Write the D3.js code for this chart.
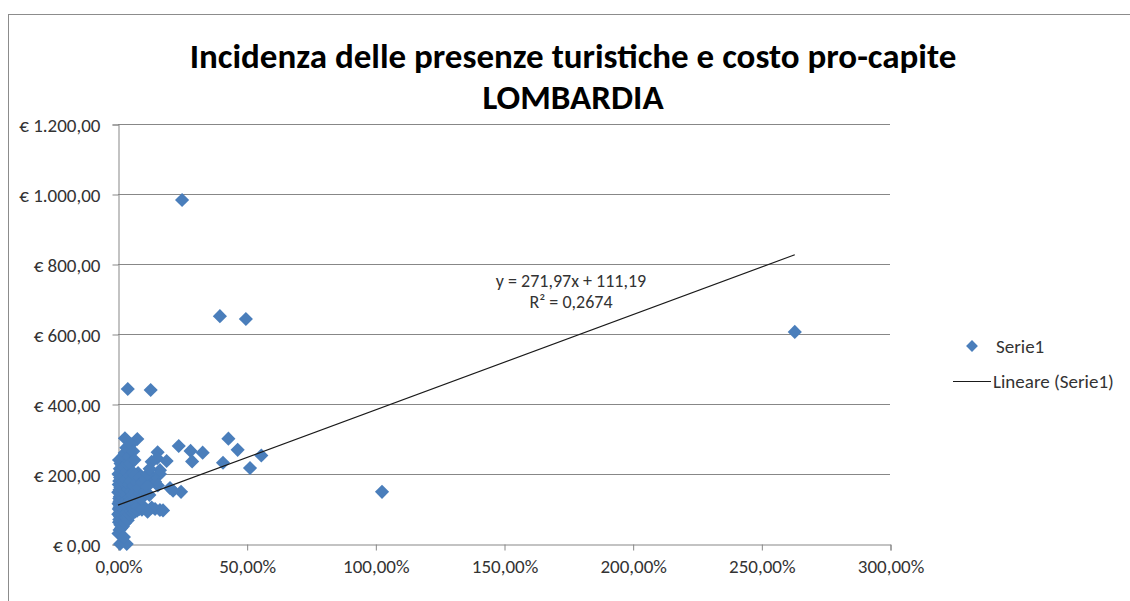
<!DOCTYPE html>
<html lang="it">
<head>
  <meta charset="utf-8">
  <title>Incidenza delle presenze turistiche e costo pro-capite - Lombardia</title>
  <script src="https://cdn.jsdelivr.net/npm/d3@7"></script>
  <style type="text/css">
    body { margin:0; background:#fff; }
    svg text { font-family: Carlito, "Liberation Sans Narrow", Lato, sans-serif; fill:#333; }
  </style>
</head>
<body>

<svg id="chart" width="1130" height="601"></svg>

<script type="text/javascript">

// incidenza presenze turistiche (%) e costo pro-capite (euro), un comune per posizione
var incidenza = [
  24.9, 39.6, 49.7, 263, 102.6, 3.8, 12.7, 2.7, 7.5, 23.6,
  42.9, 46.5, 28.2, 32.9, 28.8, 40.8, 55.7, 51.3, 24.5, 20.2,
  15.4, 15.2, 18.9, 16.3, 16.3, 13.6, 14.4, 15.5, 21.4, 13.1,
  7.8, 10.5, 14.4, 16.3, 17.5, 13.1, 0.8, 3.4,
  0.2, 0.4, 0.1, 0.3, 0.2, 0.5, 0.1, 0.3, 0.2, 0.4,
  0.6, 0.5, 0.7, 0.6, 0.5, 0.7, 0.6, 0.5, 0.7,
  0.9, 0.8, 1.0, 0.9, 0.8, 1.0, 0.9, 0.8, 1.0,
  1.1, 1.2, 1.1, 1.3, 1.2, 1.1, 1.3, 1.2, 1.1, 1.3,
  1.5, 1.6, 1.4, 1.5, 1.7, 1.6, 1.5, 1.4, 1.6,
  1.9, 2.0, 1.8, 1.9, 2.1, 2.0, 1.8, 1.9,
  2.3, 2.2, 2.4, 2.3, 2.5, 2.2, 2.4, 2.3,
  2.7, 2.8, 2.6, 2.9, 2.7, 2.8, 2.6,
  3.2, 3.1, 3.3, 3.2, 3.4, 3.1, 3.3, 3.2,
  3.8, 3.7, 3.9, 3.8, 3.6,
  4.4, 4.3, 4.5, 4.4, 4.6, 4.3,
  5.0, 5.1, 4.9, 5.2, 5.0, 4.8, 5.1,
  5.8, 5.9, 5.7, 6.0, 5.8, 5.9,
  6.6, 6.5, 6.7, 6.6, 6.4,
  7.4, 7.6, 7.3, 7.5,
  8.3, 8.5, 8.2, 8.4,
  9.3, 9.1, 9.4,
  10.4, 10.6, 11.5, 11.4, 11.6, 12.2, 12.3
];
var costo = [
  983, 651, 643, 606, 149, 443, 440, 302, 300, 280,
  301, 269, 266, 261, 236, 232, 253, 217, 149, 160,
  262, 245, 237, 211, 200, 191, 178, 167, 152, 235,
  203, 103, 100, 97, 96, 104, 0, 0,
  30, 62, 85, 100, 115, 130, 148, 170, 200, 240,
  40, 70, 90, 105, 120, 135, 155, 180, 215,
  55, 78, 95, 110, 125, 140, 162, 190, 230,
  25, 45, 66, 88, 103, 118, 138, 160, 185, 210,
  58, 74, 96, 108, 128, 145, 172, 198, 225,
  50, 82, 100, 112, 132, 152, 165, 250,
  20, 64, 92, 122, 142, 178, 195, 220,
  60, 80, 98, 115, 150, 170, 260,
  75, 88, 110, 126, 140, 185, 205, 275,
  68, 92, 118, 156, 230,
  85, 100, 135, 170, 195, 250,
  95, 110, 125, 150, 180, 230, 285,
  88, 100, 140, 165, 205, 265,
  92, 120, 150, 195, 240,
  95, 105, 135, 175,
  100, 145, 160, 190,
  98, 130, 175,
  150, 185, 92, 165, 200, 140, 215
];

// tacche degli assi
var xTicks = [0, 0.5, 1, 1.5, 2, 2.5, 3];
var yTicks = [0, 200, 400, 600, 800, 1000, 1200];

// retta di tendenza lineare (come nel grafico)
var pendenza = 271.97, intercetta = 111.19;
var equazione = ["y = 271,97x + 111,19", "R² = 0,2674"];

var titolo = ["Incidenza delle presenze turistiche e costo pro-capite", "LOMBARDIA"];
var legenda = ["Serie1", "Lineare (Serie1)"];

var punti = incidenza.map(function(v, i) { return { x: v / 100, y: costo[i] }; });

var it = d3.formatLocale({ decimal: ",", thousands: ".", grouping: [3], currency: ["€ ", ""] });
var fmtEuro = it.format("$,.2f"),
    fmtPerc = it.format(".2%");

var svg = d3.select("#chart");
var blu = "#4a7ebb", grigio = "#878787";

var x = d3.scaleLinear().domain([0, 3]).range([118, 890]);
var y = d3.scaleLinear().domain([0, 1200]).range([544, 124]);

// cornice del grafico
svg.append("rect")
  .attr("x", 8.5).attr("y", 14.5)
  .attr("width", 1130).attr("height", 600)
  .attr("fill", "none").attr("stroke", "#8c8c8c");

// titolo
svg.selectAll("text.titolo").data(titolo).enter().append("text")
  .attr("class", "titolo")
  .attr("x", 573)
  .attr("y", function(d, i) { return 68 + i * 41; })
  .attr("text-anchor", "middle")
  .style("font-size", "35px")
  .style("font-weight", "bold")
  .style("fill", "#000")
  .text(function(d) { return d; });

// griglia orizzontale
svg.append("g")
  .selectAll("line").data(yTicks.slice(1)).enter().append("line")
  .attr("x1", x(0)).attr("x2", x(3))
  .attr("y1", function(d) { return Math.round(y(d)) + 0.5; })
  .attr("y2", function(d) { return Math.round(y(d)) + 0.5; })
  .attr("stroke", grigio);

// asse y
var yAxis = svg.append("g")
  .attr("transform", "translate(" + (x(0) + 0.5) + ",0.5)")
  .call(d3.axisLeft(y).tickValues(yTicks).tickFormat(fmtEuro).tickSize(6).tickPadding(12));

// asse x
var xAxis = svg.append("g")
  .attr("transform", "translate(0.5," + (y(0) + 0.5) + ")")
  .call(d3.axisBottom(x).tickValues(xTicks).tickFormat(fmtPerc).tickSize(6).tickPadding(9));

[xAxis, yAxis].forEach(function(a) {
  a.select(".domain").attr("stroke", grigio);
  a.selectAll(".tick line").attr("stroke", grigio);
  a.selectAll(".tick text").style("font-size", "19px").style("fill", "#333")
    .attr("font-family", null);
});
yAxis.selectAll(".tick text").attr("dy", "0.36em");

// punti a rombo
var rombo = d3.symbol().type(d3.symbolSquare).size(100);
svg.append("g")
  .selectAll("path").data(punti).enter().append("path")
  .attr("d", rombo)
  .attr("transform", function(d) { return "translate(" + x(d.x) + "," + y(d.y) + ") rotate(45)"; })
  .attr("fill", blu);

// retta di tendenza, da 0 fino al valore massimo di x
var xMax = d3.max(punti, function(d) { return d.x; });
svg.append("line")
  .attr("x1", x(0)).attr("y1", y(intercetta))
  .attr("x2", x(xMax)).attr("y2", y(intercetta + pendenza * xMax))
  .attr("stroke", "#1a1a1a").attr("stroke-width", 1.2);

svg.selectAll("text.eq").data(equazione).enter().append("text")
  .attr("class", "eq")
  .attr("x", 571)
  .attr("y", function(d, i) { return 287 + i * 21; })
  .attr("text-anchor", "middle")
  .style("font-size", "18px")
  .text(function(d) { return d; });

// legenda
var leg = svg.append("g");
leg.append("path")
  .attr("d", d3.symbol().type(d3.symbolSquare).size(70))
  .attr("transform", "translate(972,346) rotate(45)")
  .attr("fill", blu);
leg.append("line")
  .attr("x1", 953).attr("x2", 991).attr("y1", 381.5).attr("y2", 381.5)
  .attr("stroke", "#1a1a1a");
leg.selectAll("text").data(legenda).enter().append("text")
  .attr("x", function(d, i) { return i === 0 ? 996 : 993; })
  .attr("y", function(d, i) { return 353 + i * 35; })
  .style("font-size", "19px")
  .text(function(d) { return d; });

</script>
</body>
</html>
